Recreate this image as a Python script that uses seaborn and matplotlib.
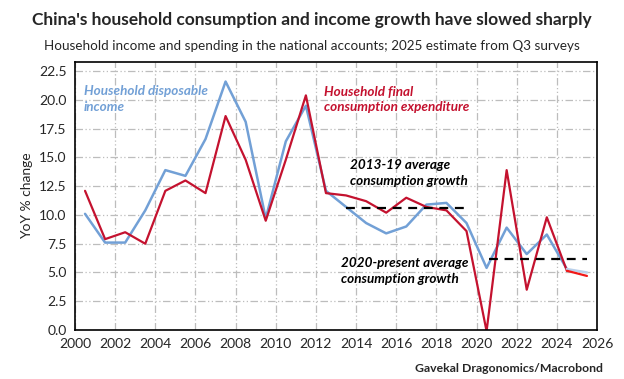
import numpy as np
import pandas as pd
import matplotlib.pyplot as plt
import seaborn as sns

# Annual YoY growth, plotted at mid-year
years = [2000.5, 2001.5, 2002.5, 2003.5, 2004.5, 2005.5, 2006.5, 2007.5, 2008.5,
         2009.5, 2010.5, 2011.5, 2012.5, 2013.5, 2014.5, 2015.5, 2016.5, 2017.5,
         2018.5, 2019.5, 2020.5, 2021.5, 2022.5, 2023.5, 2024.5, 2025.5]
consumption = [12.1, 7.9, 8.5, 7.5, 12.1, 13.0, 11.9, 18.6, 14.8,
               9.5, 14.8, 20.4, 11.9, 11.7, 11.2, 10.2, 11.5, 10.7,
               10.4, 8.6, -0.1, 13.9, 3.5, 9.8, 5.15, 4.7]
income = [10.1, 7.6, 7.6, 10.4, 13.9, 13.4, 16.6, 21.6, 18.1,
          9.7, 16.4, 19.5, 12.1, 10.7, 9.3, 8.4, 9.0, 10.9,
          11.05, 9.3, 5.4, 8.9, 6.6, 8.3, 5.3, 5.0]
avg_2013_19 = 10.65
avg_2020_now = 6.2

df = pd.DataFrame({"year": years, "consumption": consumption, "income": income})
hist = df[df["year"] <= 2024.5]
est = df[df["year"] >= 2024.5]

sns.set_style("white")
plt.rcParams["font.family"] = ["Lato", "DejaVu Sans"]

fig = plt.figure(figsize=(6.24, 3.79), dpi=100)
ax = fig.add_axes([75 / 624, 1 - 330 / 379, 522 / 624, 268 / 379])

red = "#c4122f"
blue = "#72a0d6"

sns.lineplot(data=hist, x="year", y="income", color=blue, lw=1.8, ax=ax)
sns.lineplot(data=hist, x="year", y="consumption", color=red, lw=1.6, ax=ax)
sns.lineplot(data=est, x="year", y="income", color="#b9d0ea", lw=1.8, ax=ax)
sns.lineplot(data=est, x="year", y="consumption", color="#f01818", lw=1.6, ax=ax)

ax.plot([2013.5, 2019.5], [avg_2013_19] * 2, color="black", ls=(0, (4, 3)), lw=1.6)
ax.plot([2020.6, 2025.5], [avg_2020_now] * 2, color="black", ls=(0, (4, 3)), lw=1.6)

ax.set_xlim(2000, 2026)
ax.set_ylim(0, 23.3)
ax.set_xticks(np.arange(2000, 2027, 2))
ax.set_yticks(np.arange(0, 22.6, 2.5))
ax.yaxis.set_major_formatter(plt.FuncFormatter(lambda v, p: f"{v:.1f}"))
ax.grid(True, color="#bdbdbd", lw=0.9, ls=(0, (6, 2, 1, 2, 1, 2)))
ax.set_axisbelow(True)
for s in ax.spines.values():
    s.set_color("black")
    s.set_linewidth(1.2)
ax.tick_params(axis="both", direction="out", length=4, width=1, color="black",
               labelsize=10, pad=2)
ax.set_xlabel("")
ax.set_ylabel("YoY % change", fontsize=10, labelpad=4)

lab = dict(fontsize=9.7, fontweight="bold", fontstyle="italic", va="center",
           linespacing=1.35)
ax.text(2000.45, 20.1, "Household disposable\nincome", color=blue, **lab)
ax.text(2012.4, 20.05, "Household final\nconsumption expenditure", color=red, **lab)
ax.text(2013.7, 13.65, "2013-19 average\nconsumption growth", color="black", **lab)
ax.text(2013.25, 5.13, "2020-present average\nconsumption growth", color="black", **lab)

fig.text(0.5, 1 - 20 / 379, "China's household consumption and income growth have slowed sharply",
         ha="center", va="center", fontsize=12.5, fontweight="bold")
fig.text(0.5, 1 - 46 / 379, "Household income and spending in the national accounts; 2025 estimate from Q3 surveys",
         ha="center", va="center", fontsize=9.7)
fig.text(603 / 624, 1 - 369 / 379, "Gavekal Dragonomics/Macrobond",
         ha="right", va="center", fontsize=8.8, fontweight="bold")

fig.savefig("out.png", dpi=100)
